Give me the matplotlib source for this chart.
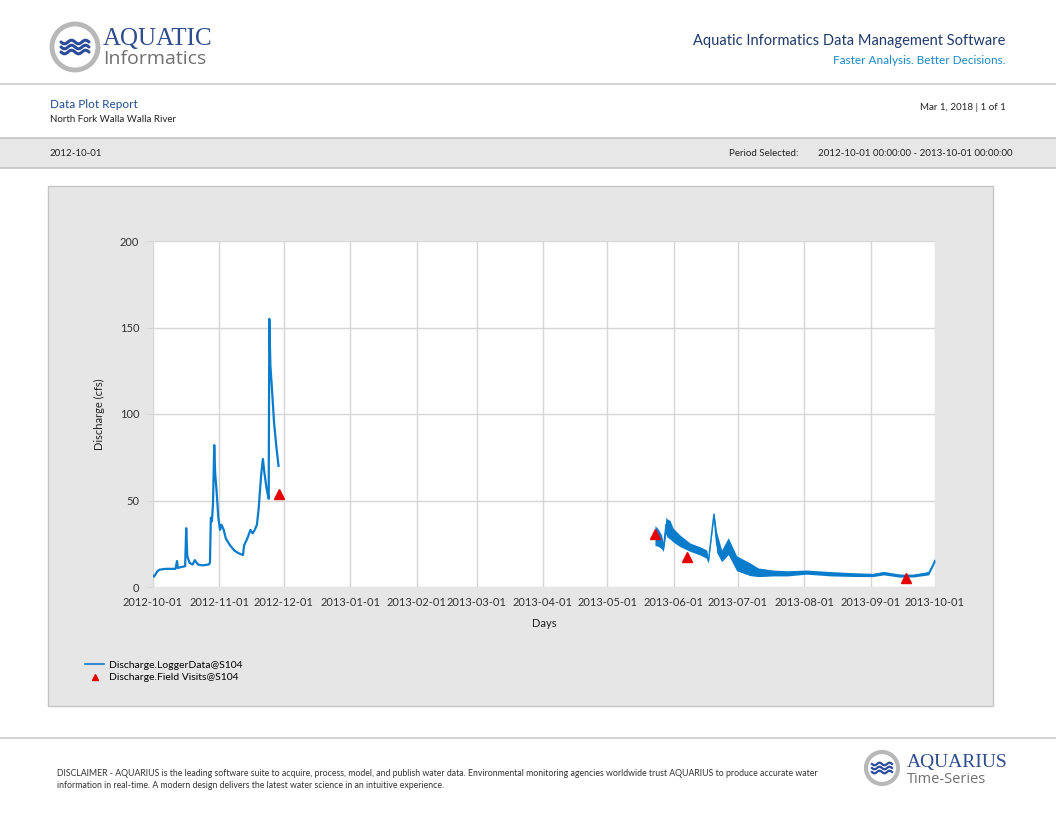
import numpy as np
import pandas as pd
import matplotlib
matplotlib.use('Agg')
import matplotlib.pyplot as plt
import matplotlib.dates as mdates
from matplotlib.patches import Rectangle, Circle
from matplotlib.lines import Line2D

plt.rcParams['font.family'] = ['Lato', 'DejaVu Sans']

## data
logger1_dates = ['2012-10-01 00:00', '2012-10-01 12:00', '2012-10-03 00:00', '2012-10-04 00:00',
                 '2012-10-07 00:00', '2012-10-10 00:00', '2012-10-11 12:00', '2012-10-12 05:00',
                 '2012-10-12 14:00', '2012-10-14 00:00', '2012-10-16 00:00', '2012-10-16 12:00',
                 '2012-10-17 00:00', '2012-10-18 00:00', '2012-10-19 12:00', '2012-10-20 12:00',
                 '2012-10-22 00:00', '2012-10-24 00:00', '2012-10-27 00:00', '2012-10-27 14:00',
                 '2012-10-28 00:00', '2012-10-28 12:00', '2012-10-29 00:00', '2012-10-29 14:00',
                 '2012-10-30 00:00', '2012-10-30 17:00', '2012-10-31 12:00', '2012-11-01 07:00',
                 '2012-11-02 00:00', '2012-11-03 00:00', '2012-11-04 00:00', '2012-11-06 00:00',
                 '2012-11-08 00:00', '2012-11-10 00:00', '2012-11-12 00:00', '2012-11-12 12:00',
                 '2012-11-14 00:00', '2012-11-15 12:00', '2012-11-16 12:00', '2012-11-17 12:00',
                 '2012-11-18 12:00', '2012-11-19 07:00', '2012-11-20 12:00', '2012-11-21 07:00',
                 '2012-11-22 00:00', '2012-11-23 00:00', '2012-11-24 00:00', '2012-11-24 07:00',
                 '2012-11-24 19:00', '2012-11-25 12:00', '2012-11-26 12:00', '2012-11-27 12:00',
                 '2012-11-28 14:00']
logger1_vals = [6.5, 6.0, 9.0, 10.0, 10.5, 10.5, 10.5, 15.0, 11.0, 11.5, 12.0, 34.0,
                18.0, 14.0, 13.0, 15.5, 13.0, 12.5, 13.0, 14.0, 40.0, 38.0, 48.0, 82.0,
                66.0, 55.0, 40.0, 33.0, 36.0, 33.0, 28.0, 24.0, 21.0, 19.5, 18.5, 24.0,
                28.0, 33.0, 31.0, 33.0, 36.0, 45.0, 65.0, 74.0, 66.0, 57.0, 51.0, 155.0,
                128.0, 115.0, 95.0, 82.0, 70.0]

logger2_dates = ['2013-05-23 07:00', '2013-05-24 20:00', '2013-05-26 10:00', '2013-05-27 05:00',
                 '2013-05-28 10:00', '2013-05-28 19:00', '2013-05-30 07:00', '2013-05-31 19:00',
                 '2013-06-04 00:00', '2013-06-08 17:00', '2013-06-13 07:00', '2013-06-16 10:00',
                 '2013-06-17 05:00', '2013-06-19 19:00', '2013-06-21 02:00', '2013-06-23 10:00',
                 '2013-06-26 12:00', '2013-06-30 10:00', '2013-07-06 14:00', '2013-07-10 12:00',
                 '2013-07-17 12:00', '2013-07-24 00:00', '2013-08-02 00:00', '2013-08-13 12:00',
                 '2013-08-23 00:00', '2013-09-02 00:00', '2013-09-07 00:00', '2013-09-14 12:00',
                 '2013-09-21 00:00', '2013-09-28 00:00', '2013-09-29 12:00', '2013-10-01 00:00']
logger2_vals = [30, 29, 26, 22, 36, 34, 33, 30, 26.5, 23, 21, 19, 15, 42, 25, 18,
                23.5, 13.5, 10, 8.5, 8, 7.8, 8.6, 7.6, 7.2, 7.0, 8.0, 6.5, 6.6, 8.0, 11.5, 15.5]
# daily swing of the logger trace (low / high edge of the band)
logger2_lo = [24, 23.5, 22, 20.5, 31, 29, 27.7, 26, 23.3, 20.6, 18.5, 16.6, 13.7, 40.5, 20, 14.6,
              18.7, 9.4, 6.6, 6, 6.4, 6.4, 7.4, 6.4, 6.1, 6.0, 7.0, 5.7, 5.8, 7.0, 10.5, 14.5]
logger2_hi = [35.5, 33.5, 30, 25, 40.5, 39.5, 38.5, 34, 30, 25.4, 23.3, 21.4, 16.5, 43.5, 31.8, 21.4,
              28.5, 18, 14, 11, 9.8, 9.4, 9.8, 8.9, 8.3, 7.9, 9.0, 7.5, 7.4, 9.0, 12.5, 16]

visit_dates = ['2012-11-28 17:00', '2013-05-23 06:00', '2013-06-07 06:00', '2013-09-17 12:00']
visit_vals = [54.0, 30.5, 17.5, 5.0]

yticks = [0, 50, 100, 150, 200]
xstart, xend = '2012-10-01', '2013-10-01'

BLUE = '#0a7ccc'
W, H = 1056, 816

fig = plt.figure(figsize=(W / 100, H / 100), dpi=100)
fig.patch.set_facecolor('white')

# page layout drawn in pixel coords
bg = fig.add_axes([0, 0, 1, 1], zorder=0)
bg.set_xlim(0, W)
bg.set_ylim(H, 0)
bg.axis('off')

# header
bg.add_patch(Circle((75, 47), 23, facecolor='white', edgecolor='#b8b8b8', lw=3.5))
wx = np.linspace(61, 89, 40)
for wy in (42, 47, 52):
    bg.plot(wx, wy + 1.8 * np.sin((wx - 61) / 28 * 4 * np.pi), color='#2b4c9b', lw=2.2,
            solid_capstyle='round')
bg.text(103, 45, 'AQUATIC', family='Liberation Serif', fontsize=18, color='#2e4d8f', va='baseline')
bg.text(103, 64, 'Informatics', family='Open Sans', fontsize=14, color='#707070', va='baseline')
bg.text(1005, 41, 'Aquatic Informatics Data Management Software', fontsize=10.5, color='#1e3a6b',
        ha='right', va='center')
bg.text(1005, 60, 'Faster Analysis. Better Decisions.', fontsize=8.5, color='#1b8ac4',
        ha='right', va='center')
bg.plot([0, W], [84, 84], color='#cccccc', lw=1.2)

bg.text(50, 105, 'Data Plot Report', fontsize=8.5, color='#1f4e8c', va='center')
bg.text(50, 120, 'North Fork Walla Walla River', fontsize=7, color='#222222', va='center')
bg.text(1006, 107, 'Mar 1, 2018 | 1 of 1', fontsize=7, color='#222222', ha='right', va='center')

# report band
bg.add_patch(Rectangle((0, 138), W, 30, facecolor='#e7e7e7', edgecolor='none'))
bg.plot([0, W], [138, 138], color='#c4c4c4', lw=1.2)
bg.plot([0, W], [168, 168], color='#c4c4c4', lw=1.2)
bg.text(50, 153, '2012-10-01', fontsize=7, color='#222222', va='center')
bg.text(729, 153, 'Period Selected:', fontsize=7, color='#222222', va='center')
bg.text(818, 153, '2012-10-01 00:00:00 - 2013-10-01 00:00:00', fontsize=7, color='#222222',
        va='center')

# chart panel
bg.add_patch(Rectangle((48, 186), 945, 520, facecolor='#e6e6e6', edgecolor='#c6c6c6', lw=1))

# footer
bg.plot([0, W], [738, 738], color='#cccccc', lw=1.2)
bg.text(57, 773, 'DISCLAIMER - AQUARIUS is the leading software suite to acquire, process, model, and '
        'publish water data. Environmental monitoring agencies worldwide trust AQUARIUS to produce '
        'accurate water', fontsize=6.3, color='#333333', va='center')
bg.text(57, 786, 'information in real-time. A modern design delivers the latest water science in an '
        'intuitive experience.', fontsize=6.3, color='#333333', va='center')
bg.add_patch(Circle((882, 768), 16, facecolor='white', edgecolor='#b8b8b8', lw=3))
fx = np.linspace(872, 892, 30)
for wy in (764, 768, 772):
    bg.plot(fx, wy + 1.3 * np.sin((fx - 872) / 20 * 4 * np.pi), color='#2b4c9b', lw=1.6)
bg.text(907, 767, 'AQUARIUS', family='Liberation Serif', fontsize=14, color='#2e4d8f', va='baseline')
bg.text(907, 783, 'Time-Series', family='Open Sans', fontsize=10.5, color='#707070', va='baseline')

# the plot itself
ax = fig.add_axes([153 / W, 1 - 587 / H, 782 / W, 346 / H], zorder=1)
ax.set_facecolor('white')

d1 = pd.to_datetime(logger1_dates)
d2 = pd.to_datetime(logger2_dates)
ax.plot(d1, logger1_vals, color=BLUE, lw=1.6, zorder=3)
ax.fill_between(d2, logger2_lo, logger2_hi, color=BLUE, lw=0, zorder=3)
ax.plot(d2, logger2_vals, color=BLUE, lw=1.0, zorder=3)
ax.plot(pd.to_datetime(visit_dates), visit_vals, ls='none', marker='^', ms=7, color='#e60000',
        zorder=4)

ax.set_xlim(pd.Timestamp(xstart), pd.Timestamp(xend))
ax.set_ylim(0, 200)
ax.set_yticks(yticks)
ax.xaxis.set_major_locator(mdates.MonthLocator())
ax.xaxis.set_major_formatter(mdates.DateFormatter('%Y-%m-%d'))
ax.grid(True, color='#d6d6d6', lw=1)
ax.set_axisbelow(True)
for s in ax.spines.values():
    s.set_visible(False)
ax.tick_params(axis='y', length=4, color='#d6d6d6', pad=6, labelsize=8, labelcolor='#333333')
ax.tick_params(axis='x', length=0, pad=7, labelsize=8, labelcolor='#333333')

ax.set_ylabel('Discharge (cfs)', fontsize=8, color='#222222')
ax.yaxis.set_label_coords(-0.062, 0.5)
ax.set_xlabel('Days', fontsize=8, color='#222222')
ax.xaxis.set_label_coords(0.5, -0.09)

handles = [Line2D([], [], color=BLUE, lw=1.2),
           Line2D([], [], ls='none', marker='^', ms=5, color='#e60000')]
fig.legend(handles, ['Discharge.LoggerData@S104', 'Discharge.Field Visits@S104'],
           loc='upper left', bbox_to_anchor=(80 / W, 1 - 655 / H), frameon=False,
           fontsize=7.5, handlelength=1.8, handletextpad=0.5, labelspacing=0.35, borderpad=0)

fig.savefig('out.png', dpi=100)
